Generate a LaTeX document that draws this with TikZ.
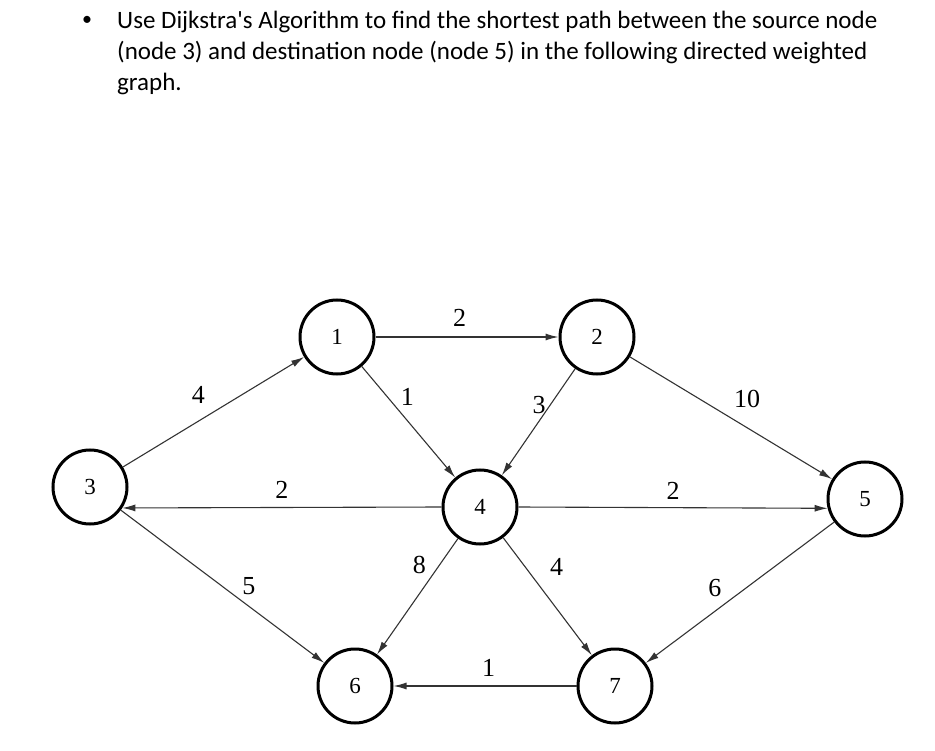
\documentclass[tikz,border=0pt]{standalone}
\usepackage{fontspec}
\setmainfont{Liberation Serif}
\newfontfamily\bodyfont{Carlito}
\usetikzlibrary{arrows.meta}

\begin{document}
\begin{tikzpicture}[x=1pt, y=-1pt, >={Latex[length=13pt,width=7pt]}]
    \tikzset{
        vertex/.style={circle, draw, line width=3pt, minimum size=74pt, inner sep=0pt,
            font=\fontsize{23}{23}\selectfont},
        arc/.style={->, line width=1.1pt, draw=black!80},
        weight/.style={font=\fontsize{26}{26}\selectfont, inner sep=3pt}
    }
    \useasboundingbox (0,0) rectangle (935,751);

    % Enunciado
    \node[font=\bodyfont\fontsize{20}{31}\selectfont, inner sep=0pt] (bullet) at (87,21) {\textbullet};
    \node[anchor=north west, inner sep=0pt, align=left,
          font=\bodyfont\fontsize{25}{31}\selectfont] (task) at (117,11)
        {Use Dijkstra\textquotesingle s Algorithm to find the shortest path between the source node\\
         (node 3) and destination node (node 5) in the following directed weighted\\
         graph.};

    % Vertices del grafo
    \node[vertex] (n1) at (337,337) {1};
    \node[vertex] (n2) at (597,337) {2};
    \node[vertex] (n3) at (90,487)  {3};
    \node[vertex] (n4) at (480,507) {4};
    \node[vertex] (n5) at (865,499) {5};
    \node[vertex] (n6) at (355,686) {6};
    \node[vertex] (n7) at (615,686) {7};

    % Aristas con sus pesos
    \draw[arc] (n3) -- node[weight, pos=.5, above left=5pt] {4} (n1);
    \draw[arc] (n1) -- node[weight, pos=.46, above=7pt] {2} (n2);
    \draw[arc] (n1) -- node[weight, pos=.38, above right=0pt] {1} (n4);
    \draw[arc] (n2) -- node[weight, pos=.34, left=1pt] {3} (n4);
    \draw[arc] (n2) -- node[weight, pos=.52, above=9pt, xshift=12pt] {10} (n5);
    \draw[arc] (n4.west) -- node[weight, pos=.5, above=5pt] {2} (n3.-33);
    \draw[arc] (n4.east) -- node[weight, pos=.5, above=5pt] {2} (n5.194);
    \draw[arc] (n3) -- node[weight, pos=.58, above right=0pt] {5} (n6);
    \draw[arc] (n4) -- node[weight, pos=.34, above left=1pt] {8} (n6);
    \draw[arc] (n4) -- node[weight, pos=.41, above right=7pt] {4} (n7);
    \draw[arc] (n5) -- node[weight, pos=.57, above left=2pt] {6} (n7);
    \draw[arc] (n7) -- node[weight, pos=.48, above=6pt] {1} (n6);

\end{tikzpicture}
\end{document}
